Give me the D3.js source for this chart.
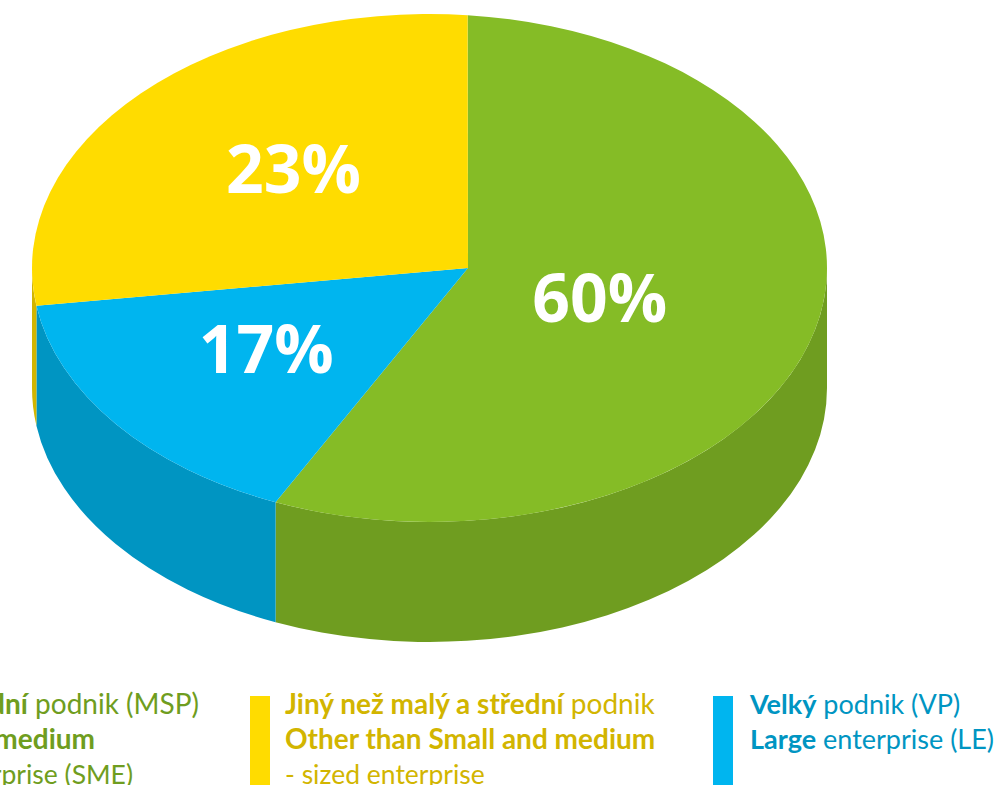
<!DOCTYPE html>
<html>
<head>
<meta charset="utf-8">
<script src="https://cdn.jsdelivr.net/npm/d3@7"></script>
<style>
  html, body { margin: 0; padding: 0; background: #fff; overflow: hidden; }
  text { font-family: Lato, "Open Sans", sans-serif; }
  text.pct { font-family: "Open Sans", sans-serif; }
</style>
</head>
<body>
<div id="chartbox"></div>
<script>
const categories = ['MSP', 'VP', 'Other']
const pieLabels = ['60%', '17%', '23%']
// the drawing does not follow its printed numbers, these are the shares as drawn on the rim
const drawnShares = [54.8, 16.3, 28.9]
const topColors = ['#85bc26', '#00b5ef', '#ffdc00']
const sideColors = ['#6f9d20', '#0095c2', '#d2b500']

const legendLines = [
  [[['Malý a střední', true], [' podnik (MSP)', false]], [['Small and medium', true]], [['- sized enterprise (SME)', false]]],
  [[['Jiný než malý a střední', true], [' podnik', false]], [['Other than Small and medium', true]], [['- sized enterprise', false]]],
  [[['Velký', true], [' podnik (VP)', false]], [['Large', true], [' enterprise (LE)', false]]]
]
const legendColors = ['#85bc26', '#ffdc00', '#00b5ef']
const legendTextColors = ['#6f9d20', '#d2b500', '#0095c2']

const width = 995, height = 785
const cx = 429.5, cy = 268, rx = 397.5, ry = 254, depth = 120
// slices meet here, right of the middle of the ellipse
const apexX = 468, apexY = 268
const startAngle = 5.5 * Math.PI / 180

const svg = d3.select('#chartbox')
  .append('svg')
  .attr('width', width)
  .attr('height', height)

const pie = d3.pie().sort(null).startAngle(startAngle).endAngle(startAngle + 2 * Math.PI)
const arcs = pie(drawnShares)

// the tilted disc is a flat circle squashed on y
const px = a => cx + rx * Math.sin(a)
const py = a => cy - ry * Math.cos(a)

const sidePath = (a0, a1) => {
  const from = Math.max(a0, Math.PI / 2)
  const to = Math.min(a1, 3 * Math.PI / 2)
  if (to <= from) return null
  return `M${px(from)},${py(from)}A${rx},${ry} 0 0 1 ${px(to)},${py(to)}` +
    `L${px(to)},${py(to) + depth}A${rx},${ry} 0 0 0 ${px(from)},${py(from) + depth}Z`
}

const topPath = (a0, a1) =>
  `M${apexX},${apexY}L${px(a0)},${py(a0)}A${rx},${ry} 0 ${a1 - a0 > Math.PI ? 1 : 0} 1 ${px(a1)},${py(a1)}Z`

svg.selectAll('path.side')
  .data(arcs)
  .enter()
  .append('path')
  .attr('class', 'side')
  .attr('d', d => sidePath(d.startAngle, d.endAngle))
  .attr('fill', (d, i) => sideColors[i])

svg.selectAll('path.top')
  .data(arcs)
  .enter()
  .append('path')
  .attr('class', 'top')
  .attr('d', d => topPath(d.startAngle, d.endAngle))
  .attr('fill', (d, i) => topColors[i])

const labelReach = [0.38, 0.57, 0.54]
const labelNudge = [[0, 30], [-1, 16], [2, 19]]
const mid = d => (d.startAngle + d.endAngle) / 2

svg.selectAll('text.pct')
  .data(arcs)
  .enter()
  .append('text')
  .attr('class', 'pct')
  .attr('x', (d, i) => apexX + labelReach[i] * (px(mid(d)) - apexX) + labelNudge[i][0])
  .attr('y', (d, i) => apexY + labelReach[i] * (py(mid(d)) - apexY) + labelNudge[i][1])
  .attr('text-anchor', 'middle')
  .attr('fill', '#fff')
  .attr('font-size', 66)
  .attr('font-weight', 700)
  .text((d, i) => pieLabels[i])

const legendX = [-182, 250, 713]
const legend = svg.selectAll('g.legend')
  .data(legendLines)
  .enter()
  .append('g')
  .attr('class', 'legend')
  .attr('transform', (d, i) => `translate(${legendX[i]},696)`)

legend.append('rect')
  .attr('width', 20)
  .attr('height', 90)
  .attr('fill', (d, i) => legendColors[i])

// first block runs off the left edge, so its lines are placed by where they end
const firstBlockEnds = [381, 277, 315]
const lineSizes = [[28, 28, 26.5], [28, 28, 26.5], [27, 27]]

legend.each(function (lines, i) {
  const t = d3.select(this).selectAll('text')
    .data(lines)
    .enter()
    .append('text')
    .attr('x', (d, j) => i === 0 ? firstBlockEnds[j] : i === 2 ? 37 : 35)
    .attr('y', (d, j) => 18 + j * 35)
    .attr('text-anchor', i === 0 ? 'end' : 'start')
    .attr('font-size', (d, j) => lineSizes[i][j])
    .attr('fill', legendTextColors[i])
  t.selectAll('tspan')
    .data(d => d)
    .enter()
    .append('tspan')
    .attr('font-weight', d => d[1] ? 700 : 400)
    .text(d => d[0])
})
</script>
</body>
</html>
